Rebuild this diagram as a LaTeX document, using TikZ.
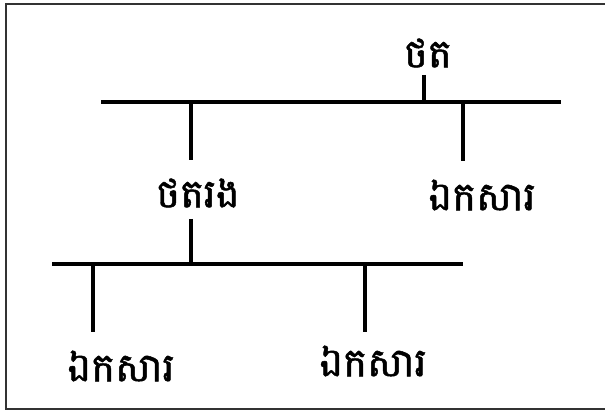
\documentclass[tikz,border=0pt]{standalone}
\usepackage{fontspec}
\newfontfamily\khmerfont[Script=Khmer,FakeBold=1.2]{Battambang}
\begin{document}
\begin{tikzpicture}[x=1pt,y=-1pt,
  lbl/.style={font=\khmerfont\fontsize{40}{42}\selectfont, inner sep=0pt},
  bar/.style={line width=3.6pt},
  stem/.style={line width=3.2pt},
  frame/.style={line width=2pt, draw=black!80}]
\useasboundingbox (0,0) rectangle (605,411);
\draw[frame] (606,4) -- (6,4) -- (6,409) -- (606,409);
% labels
\node[lbl] (root) at (428,53) {ថត};
\node[lbl] (sub)  at (198,193) {ថតរង};
\node[lbl] (d1)   at (482,195) {ឯកសារ};
\node[lbl] (d2)   at (121,366) {ឯកសារ};
\node[lbl] (d3)   at (373,361) {ឯកសារ};
% top bar
\coordinate (b1l) at (101,102);
\coordinate (b1r) at (561,102);
\coordinate (t0)  at (424,75);
\coordinate (e1)  at (191,160);
\coordinate (e2)  at (463,161);
\draw[bar] (b1l) -- (b1r);
\draw[stem] (t0) -- (t0 |- b1l);
\draw[stem] (e1 |- b1l) -- (e1);
\draw[stem] (e2 |- b1l) -- (e2);
% bottom bar
\coordinate (b2l) at (52,264);
\coordinate (b2r) at (463,264);
\coordinate (t1)  at (191,219);
\coordinate (e3)  at (93,332);
\coordinate (e4)  at (365,332);
\draw[bar] (b2l) -- (b2r);
\draw[stem] (t1) -- (t1 |- b2l);
\draw[stem] (e3 |- b2l) -- (e3);
\draw[stem] (e4 |- b2l) -- (e4);
\end{tikzpicture}
\end{document}
